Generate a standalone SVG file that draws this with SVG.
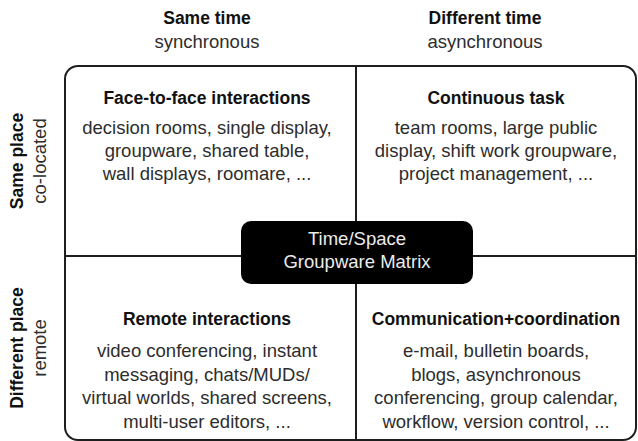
<svg xmlns="http://www.w3.org/2000/svg" width="638" height="441" viewBox="0 0 638 441">
<style>
text{font-family:"Liberation Sans",Arial,Helvetica,sans-serif;text-anchor:middle}
.h{font-size:17.5px;font-weight:bold;fill:#111}
.b{font-size:18.5px;fill:#2d2d2d}
.c{font-size:18.5px;fill:#ececec}
.ln{stroke:#1e1e1e;stroke-width:2;fill:none}
</style>
<rect width="638" height="441" fill="#fff"/>
<g id="col-headers">
<text class="h" x="207" y="24">Same time</text>
<text class="b" x="207" y="48">synchronous</text>
<text class="h" x="485" y="24">Different time</text>
<text class="b" x="485" y="48">asynchronous</text>
</g>
<g id="row-headers">
<text class="h" transform="translate(23,161) rotate(-90)">Same place</text>
<text class="b" transform="translate(46,161) rotate(-90)">co-located</text>
<text class="h" transform="translate(23,348) rotate(-90)">Different place</text>
<text class="b" transform="translate(46,348) rotate(-90)">remote</text>
</g>
<g id="connectors">
<rect class="ln" x="65" y="66" width="571" height="374" rx="13"/>
<line class="ln" x1="356" y1="66" x2="356" y2="440"/>
<line class="ln" x1="65" y1="256" x2="636" y2="256"/>
</g>
<g id="q-face-to-face">
<text class="h" x="207" y="104">Face-to-face interactions</text>
<text class="b" x="207" y="134">decision rooms, single display,</text>
<text class="b" x="207" y="157">groupware, shared table,</text>
<text class="b" x="207" y="180">wall displays, roomare, ...</text>
</g>
<g id="q-continuous">
<text class="h" x="496" y="104">Continuous task</text>
<text class="b" x="496" y="134">team rooms, large public</text>
<text class="b" x="496" y="157">display, shift work groupware,</text>
<text class="b" x="496" y="180">project management, ...</text>
</g>
<g id="q-remote">
<text class="h" x="207" y="325">Remote interactions</text>
<text class="b" x="207" y="357">video conferencing, instant</text>
<text class="b" x="207" y="380.5">messaging, chats/MUDs/</text>
<text class="b" x="207" y="404">virtual worlds, shared screens,</text>
<text class="b" x="207" y="427.5">multi-user editors, ...</text>
</g>
<g id="q-communication">
<text class="h" x="496" y="325">Communication+coordination</text>
<text class="b" x="496" y="357">e-mail, bulletin boards,</text>
<text class="b" x="496" y="380.5">blogs, asynchronous</text>
<text class="b" x="496" y="404">conferencing, group calendar,</text>
<text class="b" x="496" y="427.5">workflow, version control, ...</text>
</g>
<g id="center">
<rect x="241" y="221" width="232" height="63" rx="10" fill="#000"/>
<text class="c" x="357" y="245">Time/Space</text>
<text class="c" x="357" y="268">Groupware Matrix</text>
</g>
</svg>
